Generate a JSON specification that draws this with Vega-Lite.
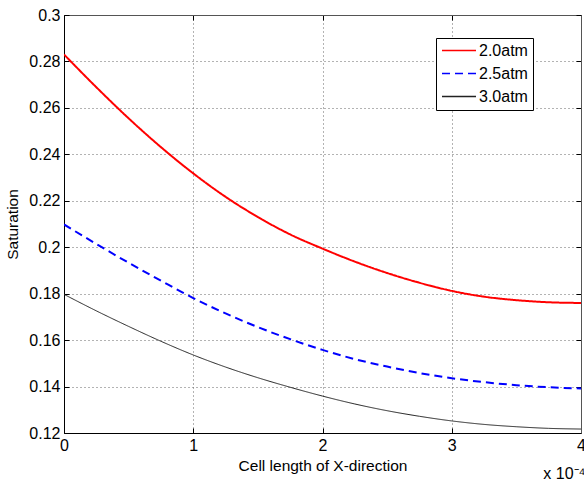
{
  "$schema": "https://vega.github.io/schema/vega-lite/v6.json",
  "width": 517,
  "height": 418,
  "autosize": {"type": "none"},
  "padding": {"left": 64, "top": 15, "right": 3, "bottom": 47},
  "background": "white",
  "config": {
    "view": {"stroke": null},
    "font": "Liberation Sans",
    "axis": {"labelFont": "Liberation Sans", "titleFont": "Liberation Sans", "labelColor": "black", "titleColor": "black", "labelFontSize": 16, "titleFontSize": 15.5, "titleFontWeight": "normal", "domainColor": "black", "tickColor": "black"},
    "legend": {"labelFont": "Liberation Sans"}
  },
  "title": {"text": "x 10⁻⁴", "orient": "bottom", "anchor": "end", "fontSize": 16, "fontWeight": "normal", "font": "Liberation Sans", "color": "black", "offset": -8},
  "data": {"values": [
    {"x": 0, "s": "2.0atm", "y": 0.283},
    {"x": 0.25, "s": "2.0atm", "y": 0.2689},
    {"x": 0.5, "s": "2.0atm", "y": 0.2555},
    {"x": 0.75, "s": "2.0atm", "y": 0.2431},
    {"x": 1, "s": "2.0atm", "y": 0.2318},
    {"x": 1.25, "s": "2.0atm", "y": 0.2217},
    {"x": 1.5, "s": "2.0atm", "y": 0.213},
    {"x": 1.75, "s": "2.0atm", "y": 0.2055},
    {"x": 2, "s": "2.0atm", "y": 0.1994},
    {"x": 2.25, "s": "2.0atm", "y": 0.1938},
    {"x": 2.5, "s": "2.0atm", "y": 0.1889},
    {"x": 2.75, "s": "2.0atm", "y": 0.1847},
    {"x": 3, "s": "2.0atm", "y": 0.1812},
    {"x": 3.25, "s": "2.0atm", "y": 0.1787},
    {"x": 3.5, "s": "2.0atm", "y": 0.1772},
    {"x": 3.75, "s": "2.0atm", "y": 0.1763},
    {"x": 4, "s": "2.0atm", "y": 0.176},
    {"x": 0, "s": "2.5atm", "y": 0.2098},
    {"x": 0.25, "s": "2.5atm", "y": 0.2014},
    {"x": 0.5, "s": "2.5atm", "y": 0.1933},
    {"x": 0.75, "s": "2.5atm", "y": 0.1856},
    {"x": 1, "s": "2.5atm", "y": 0.1781},
    {"x": 1.25, "s": "2.5atm", "y": 0.1715},
    {"x": 1.5, "s": "2.5atm", "y": 0.1656},
    {"x": 1.75, "s": "2.5atm", "y": 0.1604},
    {"x": 2, "s": "2.5atm", "y": 0.1558},
    {"x": 2.25, "s": "2.5atm", "y": 0.1518},
    {"x": 2.5, "s": "2.5atm", "y": 0.1486},
    {"x": 2.75, "s": "2.5atm", "y": 0.1458},
    {"x": 3, "s": "2.5atm", "y": 0.1436},
    {"x": 3.25, "s": "2.5atm", "y": 0.1419},
    {"x": 3.5, "s": "2.5atm", "y": 0.1406},
    {"x": 3.75, "s": "2.5atm", "y": 0.1397},
    {"x": 4, "s": "2.5atm", "y": 0.1392},
    {"x": 0, "s": "3.0atm", "y": 0.1797},
    {"x": 0.25, "s": "3.0atm", "y": 0.1726},
    {"x": 0.5, "s": "3.0atm", "y": 0.1659},
    {"x": 0.75, "s": "3.0atm", "y": 0.1595},
    {"x": 1, "s": "3.0atm", "y": 0.1536},
    {"x": 1.25, "s": "3.0atm", "y": 0.1484},
    {"x": 1.5, "s": "3.0atm", "y": 0.1438},
    {"x": 1.75, "s": "3.0atm", "y": 0.1397},
    {"x": 2, "s": "3.0atm", "y": 0.1359},
    {"x": 2.25, "s": "3.0atm", "y": 0.1325},
    {"x": 2.5, "s": "3.0atm", "y": 0.1296},
    {"x": 2.75, "s": "3.0atm", "y": 0.1272},
    {"x": 3, "s": "3.0atm", "y": 0.1252},
    {"x": 3.25, "s": "3.0atm", "y": 0.1237},
    {"x": 3.5, "s": "3.0atm", "y": 0.1227},
    {"x": 3.75, "s": "3.0atm", "y": 0.1220},
    {"x": 4, "s": "3.0atm", "y": 0.1217}
  ]},
  "layer": [
    {
      "mark": {"type": "line", "clip": true, "interpolate": "monotone"},
      "encoding": {
        "x": {"field": "x", "type": "quantitative", "scale": {"domain": [0, 4], "nice": false, "zero": false},
              "axis": {"title": "Cell length of X-direction", "values": [0, 1, 2, 3, 4], "format": "d", "grid": true, "gridDash": [1, 3], "gridColor": "#666", "gridOpacity": 1, "tickSize": -5, "labelPadding": 9, "titlePadding": 5, "labelFlush": false, "labelOverlap": false, "labelBound": false}},
        "y": {"field": "y", "type": "quantitative", "scale": {"domain": [0.12, 0.3], "nice": false, "zero": false},
              "axis": {"title": "Saturation", "values": [0.12, 0.14, 0.16, 0.18, 0.2, 0.22, 0.24, 0.26, 0.28, 0.3], "format": ".2~f", "grid": true, "gridDash": [1, 3], "gridColor": "#666", "gridOpacity": 1, "tickSize": -5, "labelPadding": 9, "titlePadding": 8, "labelFlush": false, "labelOverlap": false, "labelBound": false}},
        "color": {"field": "s", "type": "nominal", "scale": {"domain": ["2.0atm", "2.5atm", "3.0atm"], "range": ["#ff0000", "#0000ff", "#222222"]},
                  "legend": {"title": null, "orient": "none", "legendX": 372, "legendY": 23, "symbolType": "stroke", "symbolSize": 1156, "labelFontSize": 16, "labelColor": "black", "labelOffset": 2, "clipHeight": 15, "rowPadding": 6, "padding": 5, "strokeColor": "black", "fillColor": "white", "cornerRadius": 0}},
        "strokeDash": {"field": "s", "type": "nominal", "scale": {"domain": ["2.0atm", "2.5atm", "3.0atm"], "range": [[1, 0], [8, 5], [1, 0]]}, "legend": {"title": null}},
        "strokeWidth": {"condition": {"test": "datum.s === '3.0atm'", "value": 1}, "value": 2}
      }
    },
    {
      "mark": {"type": "line", "opacity": 0},
      "encoding": {
        "x": {"field": "x", "type": "quantitative", "scale": {"domain": [0, 4], "nice": false, "zero": false},
              "axis": {"orient": "top", "title": null, "labels": false, "values": [0, 1, 2, 3, 4], "grid": false, "tickSize": -5, "domainColor": "#555"}},
        "y": {"field": "y", "type": "quantitative", "scale": {"domain": [0.12, 0.3], "nice": false, "zero": false},
              "axis": {"orient": "right", "title": null, "labels": false, "values": [0.12, 0.14, 0.16, 0.18, 0.2, 0.22, 0.24, 0.26, 0.28, 0.3], "grid": false, "tickSize": -5, "domainColor": "#555"}},
        "detail": {"field": "s", "type": "nominal"}
      }
    }
  ],
  "resolve": {"axis": {"x": "independent", "y": "independent"}}
}
